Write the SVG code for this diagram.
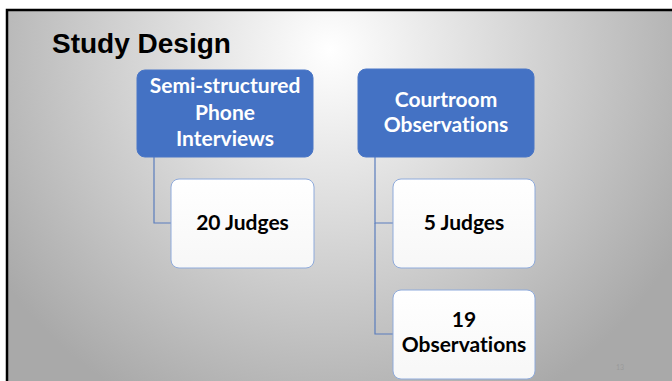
<svg xmlns="http://www.w3.org/2000/svg" width="672" height="381" viewBox="0 0 672 381">
<defs>
<radialGradient id="bg" gradientUnits="userSpaceOnUse" cx="330" cy="50" r="400">
<stop offset="0" stop-color="#ffffff"/>
<stop offset="1" stop-color="#a9a9a9"/>
</radialGradient>
<linearGradient id="wb" x1="0" y1="0" x2="0" y2="1">
<stop offset="0" stop-color="#ffffff"/>
<stop offset="1" stop-color="#f7f7f7"/>
</linearGradient>
<style>
.blue{fill:#4472c4;stroke:#4a76c6;stroke-width:1}
.white{fill:url(#wb);stroke:#8eaadb;stroke-width:1}
.bt{font-family:Lato,"Open Sans",sans-serif;font-weight:bold;font-size:21px;fill:#ffffff;text-anchor:middle;font-variant-ligatures:none}
.wt{font-family:Lato,"Open Sans",sans-serif;font-weight:bold;font-size:21px;fill:#000000;text-anchor:middle;font-variant-ligatures:none}
.conn{fill:none;stroke:#5a7dbd;stroke-width:1.2}
</style>
</defs>
<rect x="0" y="0" width="672" height="381" fill="#ffffff"/>
<rect x="7" y="10" width="680" height="390" fill="url(#bg)" stroke="#000000" stroke-width="2.5"/>
<text x="52" y="53" font-family="'Liberation Sans',Arial,sans-serif" font-weight="bold" font-size="28px" fill="#000000">Study Design</text>
<g id="connectors">
<path class="conn" d="M154,157 V223 H171"/>
<path class="conn" d="M375,157 V223 H393"/>
<path class="conn" d="M375,223 V334 H393"/>
</g>
<g id="phone">
<rect class="blue" x="137" y="70" width="176" height="87" rx="8"/>
<text class="bt" x="225" y="93">Semi-structured</text>
<text class="bt" x="225" y="120">Phone</text>
<text class="bt" x="225" y="146">Interviews</text>
</g>
<g id="judges20">
<rect class="white" x="171" y="179" width="143" height="89" rx="8"/>
<text class="wt" x="242.5" y="230">20 Judges</text>
</g>
<g id="courtroom">
<rect class="blue" x="358" y="69" width="176" height="88" rx="8"/>
<text class="bt" x="446" y="107">Courtroom</text>
<text class="bt" x="446" y="132">Observations</text>
</g>
<g id="judges5">
<rect class="white" x="393" y="179" width="142" height="89" rx="8"/>
<text class="wt" x="464" y="230">5 Judges</text>
</g>
<g id="obs19">
<rect class="white" x="393" y="290" width="142" height="89" rx="8"/>
<text class="wt" x="464" y="327">19</text>
<text class="wt" x="464" y="352">Observations</text>
</g>
<text x="620" y="370" font-family="Lato,'Open Sans',sans-serif" font-size="7px" fill="#9a9a9a" text-anchor="middle">13</text>
</svg>
